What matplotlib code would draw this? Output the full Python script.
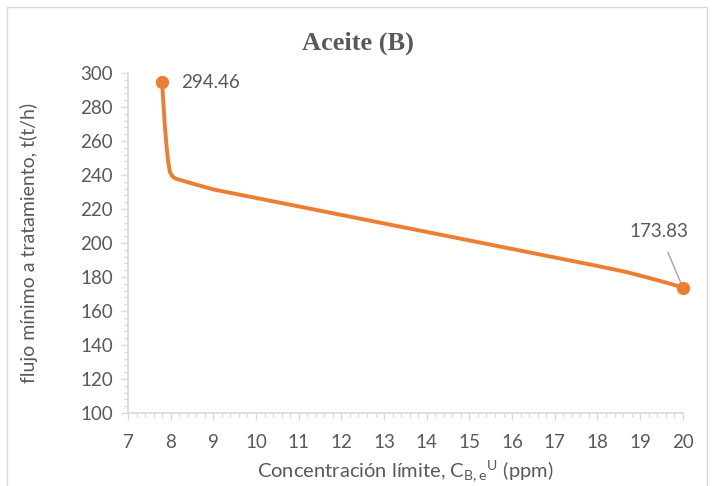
import matplotlib.pyplot as plt
from matplotlib.patches import Rectangle
from matplotlib.ticker import MultipleLocator

# ==========================
# Data
# ==========================

conc = [7.8, 7.83, 7.86, 7.9, 7.94, 7.98, 8.03, 8.1, 8.5, 9, 10, 11, 12, 13,
        14, 15, 16, 17, 18, 18.7, 19.2, 19.6, 20]
flow = [294.46, 282, 270, 258, 248, 242, 239.5, 238, 235, 231.5, 226.5, 221.5,
        216.5, 211.5, 206.5, 201.5, 196.5, 191.5, 186.5, 182.8, 179.5, 176.8,
        173.83]

ends_x = [conc[0], conc[-1]]
ends_y = [flow[0], flow[-1]]

ORANGE = "#ED7D31"
TEXT = "#595959"
GRID = "#D9D9D9"

plt.rcParams["font.family"] = ["Lato", "DejaVu Sans"]

fig = plt.figure(figsize=(7.15, 4.86), dpi=100)
ax = fig.add_axes([0.179, 0.150, 0.776, 0.700])

# chart frame
fig.patches.append(Rectangle((7 / 715, -0.05), 700 / 715, 1.05 - 7 / 486,
                             transform=fig.transFigure, fill=False,
                             edgecolor=GRID, linewidth=1.0))

ax.plot(conc, flow, color=ORANGE, linewidth=2.8, solid_capstyle="round")
ax.plot(ends_x, ends_y, "o", color=ORANGE, markersize=8.5, clip_on=False,
        zorder=5)

ax.annotate(f"{ends_y[0]:.2f}", (ends_x[0], ends_y[0]), xytext=(14, 0),
            textcoords="offset points", va="center", ha="left",
            fontsize=13.5, color=TEXT)
ax.annotate(f"{ends_y[1]:.2f}", (ends_x[1], ends_y[1]), xytext=(-17, 40),
            textcoords="offset points", va="center", ha="center",
            fontsize=13.5, color=TEXT, annotation_clip=False,
            arrowprops=dict(arrowstyle="-", color="#A6A6A6", lw=1.0,
                            shrinkA=7, shrinkB=2))

ax.set_xlim(7, 20)
ax.set_ylim(100, 300)
ax.xaxis.set_major_locator(MultipleLocator(1))
ax.xaxis.set_minor_locator(MultipleLocator(0.2))
ax.yaxis.set_major_locator(MultipleLocator(20))
ax.yaxis.set_minor_locator(MultipleLocator(4))

for side in ["top", "right"]:
    ax.spines[side].set_visible(False)
for side in ["left", "bottom"]:
    ax.spines[side].set_color(GRID)
    ax.spines[side].set_linewidth(1.2)

ax.tick_params(which="major", length=5, width=1.0, color=GRID,
               labelcolor=TEXT, labelsize=13.5)
ax.tick_params(axis="x", which="major", pad=10)
ax.tick_params(axis="y", which="major", pad=6)
ax.tick_params(which="minor", length=3, width=1.0, color=GRID)

fig.text(0.5, 1 - 43 / 486, "Aceite (B)", fontsize=19, fontweight="bold",
         color=TEXT, family="Liberation Serif", ha="center", va="center")
ax.set_xlabel("Concentración límite, $\\mathregular{C_{B,e}{}^{U}}$ (ppm)",
              fontsize=14.5, color=TEXT, labelpad=5)
ax.set_ylabel("flujo mínimo a tratamiento, t(t/h)", fontsize=14,
              color=TEXT, labelpad=30)

fig.savefig("out.png", dpi=100)
